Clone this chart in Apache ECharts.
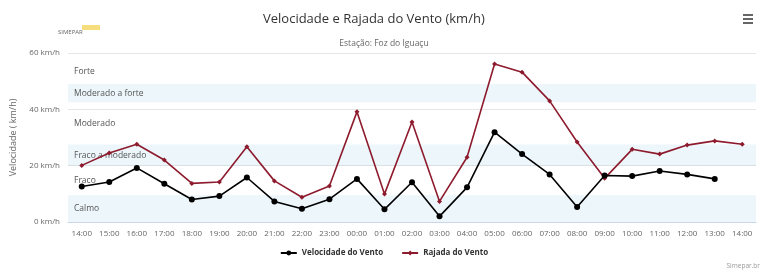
<!DOCTYPE html>
<html><head><meta charset="utf-8">
<script src="https://cdn.jsdelivr.net/npm/echarts@6/dist/echarts.min.js"></script>
<style>html,body{margin:0;padding:0;background:#fff}#c{width:768px;height:279px}</style>
</head><body><div id="c"></div>
<script>
const categories = ['14:00','15:00','16:00','17:00','18:00','19:00','20:00','21:00','22:00','23:00','00:00','01:00','02:00','03:00','04:00','05:00','06:00','07:00','08:00','09:00','10:00','11:00','12:00','13:00','14:00'];
const velocidade = [12.6,14.2,19.2,13.6,8.0,9.2,15.8,7.3,4.7,8.1,15.3,4.5,14.1,2.0,12.3,31.9,24.1,16.9,5.3,16.5,16.3,18.1,16.9,15.3,null];
const rajada = [20.1,24.5,27.6,22.0,13.7,14.2,26.7,14.6,8.8,12.8,39.1,9.9,35.5,7.3,23.0,56.1,53.2,43.0,28.4,15.5,25.8,24.1,27.3,28.8,27.6];
const yTicks = [0,20,40,60];
const bands = [
  {name:'Calmo', from:0, to:9.5, shaded:true},
  {name:'Fraco', from:9.5, to:20, shaded:false},
  {name:'Fraco a moderado', from:20, to:27.5, shaded:true},
  {name:'Moderado', from:27.5, to:42.5, shaded:false},
  {name:'Moderado a forte', from:42.5, to:49, shaded:true},
  {name:'Forte', from:49, to:58, shaded:false}
];
const FONT = '"Open Sans", sans-serif';
const chart = echarts.init(document.getElementById('c'));
chart.setOption({
  animation:false,
  textStyle:{fontFamily:FONT},
  title:[
    {text:'Velocidade e Rajada do Vento (km/h)', left:258, top:8,
      textStyle:{fontSize:13, fontWeight:'normal', color:'#333', fontFamily:FONT}},
    {text:'Estação: Foz do Iguaçu', left:'center', top:34,
      textStyle:{fontSize:8.5, fontWeight:'normal', color:'#666', fontFamily:FONT}}
  ],
  legend:{bottom:17, left:'center', itemWidth:16, itemHeight:6, itemGap:18,
    textStyle:{fontSize:8, fontWeight:'bold', color:'#333', fontFamily:FONT},
    data:['Velocidade do Vento','Rajada do Vento']},
  grid:{left:68, right:12, top:53, bottom:57},
  xAxis:{type:'category', data:categories, boundaryGap:true,
    axisLine:{lineStyle:{color:'#ccd6eb'}}, axisTick:{show:false},
    axisLabel:{fontSize:8, color:'#666', margin:8, interval:0}},
  yAxis:{type:'value', min:0, max:60, interval:20,
    name:'Velocidade ( km/h)', nameLocation:'middle', nameGap:50, nameRotate:90,
    nameTextStyle:{fontSize:9, color:'#666'},
    axisLabel:{fontSize:8, color:'#666', formatter: v => yTicks.includes(v) ? v + ' km/h' : ''},
    splitLine:{lineStyle:{color:'#e6e6e6'}}, axisLine:{show:false}, axisTick:{show:false}},
  series:[
    {name:'Velocidade do Vento', type:'line', data:velocidade, color:'#000',
      symbol:'circle', symbolSize:6, lineStyle:{width:1.6, color:'#000'}, itemStyle:{color:'#000'},
      z:3,
      markArea:{silent:true, data: bands.map(b => [{yAxis:b.from, name:b.name,
          itemStyle:{color: b.shaded ? 'rgba(68,170,213,0.1)' : 'rgba(0,0,0,0)'}},
          {yAxis:b.to}]),
        label:{show:true, position:'insideLeft', distance:6, fontSize:8.5, color:'#555', fontFamily:FONT}}
    },
    {name:'Rajada do Vento', type:'line', data:rajada, color:'#8d1b2d',
      symbol:'diamond', symbolSize:5, lineStyle:{width:1.6, color:'#8d1b2d'}, itemStyle:{color:'#8d1b2d'}, z:2}
  ],
  graphic:[
    {type:'text', left:58, top:29, style:{text:'SIMEPAR', fontSize:6, fill:'#666', fontFamily:FONT, letterSpacing:1}},
    {type:'rect', left:82, top:25, shape:{width:18, height:5}, style:{fill:'rgba(240,200,40,0.6)'}},
    {type:'rect', left:743, top:14, shape:{width:10, height:2}, style:{fill:'#666'}},
    {type:'rect', left:743, top:18, shape:{width:10, height:2}, style:{fill:'#666'}},
    {type:'rect', left:743, top:22, shape:{width:10, height:2}, style:{fill:'#666'}},
    {type:'text', right:8, top:263, style:{text:'Simepar.br', fontSize:6.5, fill:'#999', fontFamily:FONT}}
  ]
});
</script></body></html>
